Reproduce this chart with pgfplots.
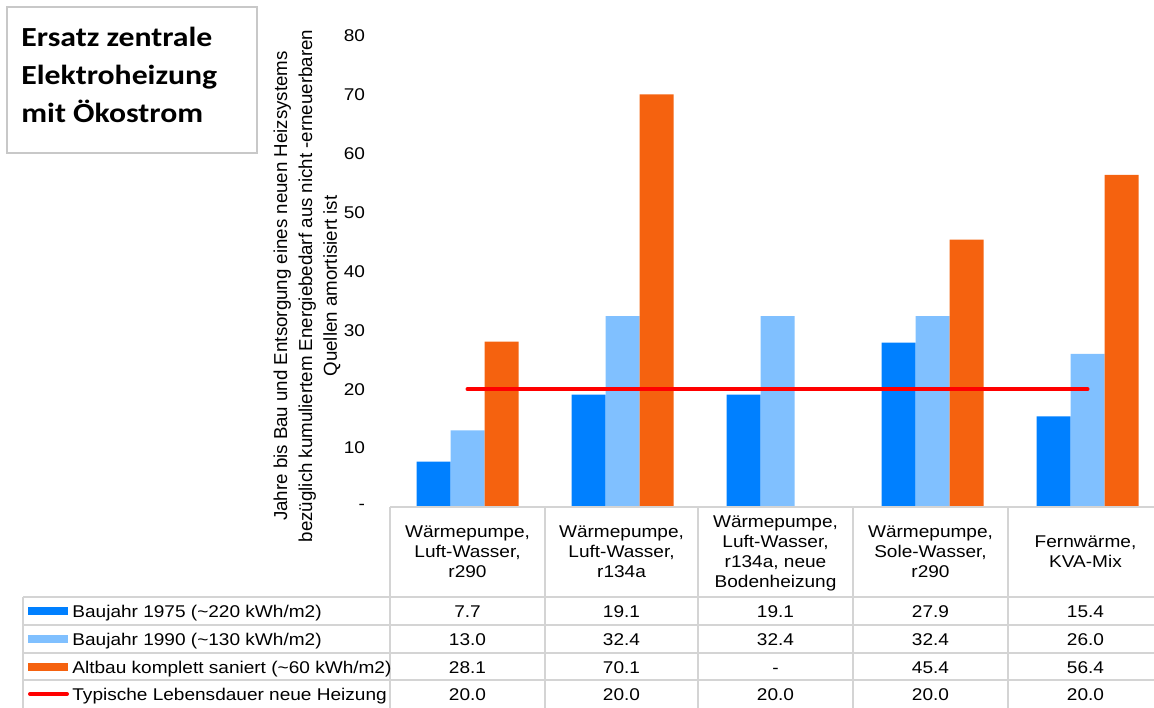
\documentclass[border=0pt]{standalone}
\usepackage{pgfplots}
\pgfplotsset{compat=1.18}
\usepackage{fontspec}
\setmainfont{Liberation Sans}
\newfontfamily\tabfont[FakeStretch=1.12]{Liberation Sans}
\newfontfamily\titlefont[FakeStretch=1.15]{Carlito}
\definecolor{cA}{RGB}{0,128,255}
\definecolor{cB}{RGB}{128,192,255}
\definecolor{cC}{RGB}{245,98,15}
\definecolor{cR}{RGB}{255,0,0}
\definecolor{grid}{RGB}{212,212,212}
\definecolor{boxc}{RGB}{200,200,200}
\begin{document}
\begin{tikzpicture}
\useasboundingbox (0,0) rectangle (577pt,353.5pt);
\clip (0,0) rectangle (577pt,353.5pt);
\begin{axis}[
  at={(195pt,100pt)}, anchor=south west,
  scale only axis, width=387.5pt, height=235.5pt,
  xmin=-0.5, xmax=4.5, ymin=0, ymax=80,
  clip=false,
  axis line style={draw=none},
  xtick=\empty,
  ytick={0,10,20,30,40,50,60,70,80},
  yticklabels={-,10,20,30,40,50,60,70,80},
  major tick length=0pt,
  ytick style={draw=none},
  yticklabel style={font=\tabfont\fontsize{8.5pt}{10pt}\selectfont, anchor=east, xshift=-9pt},
]
\addplot[ybar, bar width=17pt, bar shift=-17pt, fill=cA, draw=none] coordinates {(0,7.7)(1,19.1)(2,19.1)(3,27.9)(4,15.4)};
\addplot[ybar, bar width=17pt, bar shift=0pt, fill=cB, draw=none] coordinates {(0,13.0)(1,32.4)(2,32.4)(3,32.4)(4,26.0)};
\addplot[ybar, bar width=17pt, bar shift=17pt, fill=cC, draw=none] coordinates {(0,28.1)(1,70.1)(3,45.4)(4,56.4)};
\addplot[cR, line width=2pt, line cap=round, mark=none] coordinates {(0,20.0)(1,20.0)(2,20.0)(3,20.0)(4,20.0)};
\end{axis}
\begin{scope}[x=0.5pt,y=-0.5pt,yshift=353.5pt]
  % title box
  \draw[boxc, line width=0.75pt] (7,7) rectangle (257,153);
  \node[anchor=west, inner sep=0pt, align=left, font=\titlefont\bfseries\fontsize{13.8pt}{19pt}\selectfont] at (21,75) {Ersatz zentrale\\Elektroheizung\\mit Ökostrom};
  % y label
  \node[rotate=90, align=center, inner sep=0pt, font=\fontsize{9.35pt}{12.4pt}\selectfont] at (307,286) {Jahre bis Bau und Entsorgung eines neuen Heizsystems\\bezüglich kumuliertem Energiebedarf aus nicht -erneuerbaren\\Quellen amortisiert ist};
  % table grid
  \begin{scope}[grid, line width=0.75pt]
    \draw (390,507) -- (1160,507);
    \foreach \yy in {597,625,653,680} \draw (23,\yy) -- (1160,\yy);
    \draw (23,597) -- (23,710);
    \foreach \xx in {390,545,698,853,1008} \draw (\xx,507) -- (\xx,710);
  \end{scope}
  % header
  \begin{scope}[every node/.style={align=center, inner sep=0pt, font=\tabfont\fontsize{8.5pt}{10pt}\selectfont}]
    \node at (467.5,552) {Wärmepumpe,\\Luft-Wasser,\\r290};
    \node at (621.5,552) {Wärmepumpe,\\Luft-Wasser,\\r134a};
    \node at (775.5,553) {Wärmepumpe,\\Luft-Wasser,\\r134a, neue\\Bodenheizung};
    \node at (930.5,552) {Wärmepumpe,\\Sole-Wasser,\\r290};
    \node at (1085.5,552) {Fernwärme,\\KVA-Mix};
  \end{scope}
  % legend keys
  \fill[cA] (28,607) rectangle (68,615);
  \fill[cB] (28,635) rectangle (68,643);
  \fill[cC] (28,663) rectangle (68,671);
  \draw[cR, line width=2pt, line cap=round] (30,694) -- (67,694);
  \begin{scope}[every node/.style={inner sep=0pt, text height=6.1pt, text depth=0pt, font=\tabfont\fontsize{8.5pt}{10pt}\selectfont}]
    \node[anchor=west] at (72,611) {Baujahr 1975 (\textasciitilde 220 kWh/m2)};
    \node[anchor=west] at (72,639) {Baujahr 1990 (\textasciitilde 130 kWh/m2)};
    \node[anchor=west] at (72,667) {Altbau komplett saniert (\textasciitilde 60 kWh/m2)};
    \node[anchor=west] at (72,694) {Typische Lebensdauer neue Heizung};
    \foreach \cx/\a/\b/\c in {467.5/7.7/13.0/28.1, 621.5/19.1/32.4/70.1, 775.5/19.1/32.4/-, 930.5/27.9/32.4/45.4, 1085.5/15.4/26.0/56.4} {
      \node at (\cx,611) {\a};
      \node at (\cx,639) {\b};
      \node at (\cx,667) {\c};
      \node at (\cx,694) {20.0};
    }
  \end{scope}
\end{scope}
\end{tikzpicture}
\end{document}
